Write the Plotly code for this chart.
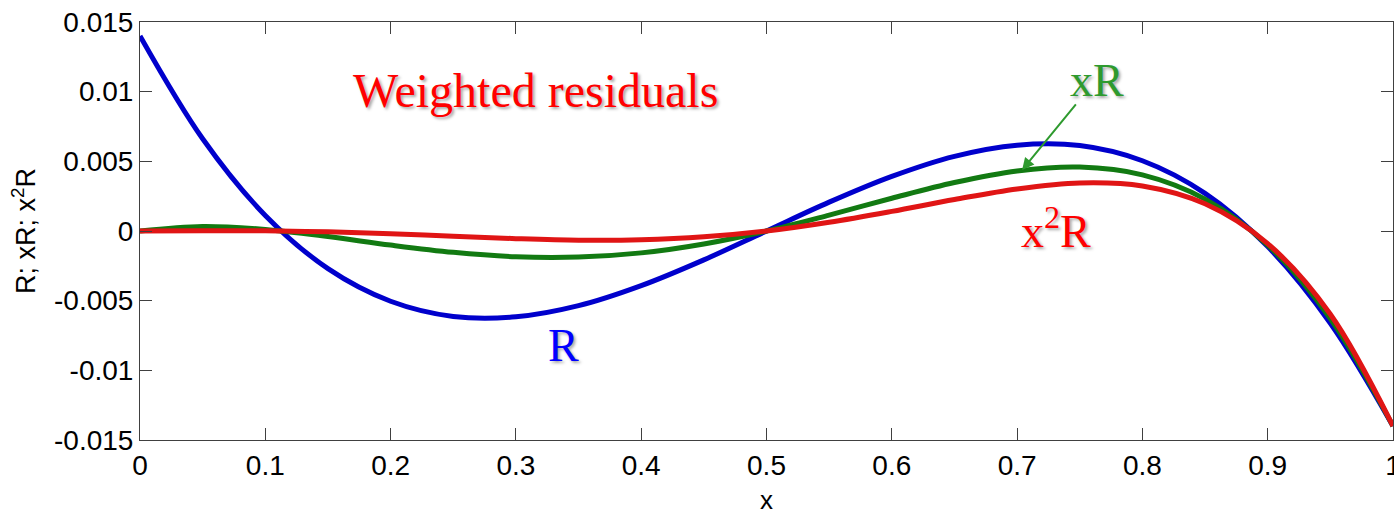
import plotly.graph_objects as go

x_vals = [0.0, 0.05, 0.1, 0.15, 0.2, 0.25, 0.3, 0.35, 0.4, 0.45, 0.5,
          0.55, 0.6, 0.65, 0.7, 0.75, 0.8, 0.85, 0.9, 0.95, 1.0]
R_vals = [0.014, 0.00662, 0.00112, -0.00270, -0.00504, -0.00613, -0.00616, -0.00536,
          -0.00392, -0.00207, 0.0, 0.00207, 0.00392, 0.00536, 0.00616, 0.00613,
          0.00504, 0.00270, -0.00112, -0.00662, -0.014]
xR_vals = [0.0, 0.00033, 0.00011, -0.00040, -0.00101, -0.00153, -0.00185, -0.00187,
           -0.00157, -0.00093, 0.0, 0.00114, 0.00235, 0.00348, 0.00431, 0.00459,
           0.00403, 0.00229, -0.00101, -0.00628, -0.014]
x2R_vals = [0.0, 0.00002, 0.00001, -0.00006, -0.00020, -0.00038, -0.00055, -0.00066,
            -0.00063, -0.00042, 0.0, 0.00063, 0.00141, 0.00226, 0.00302, 0.00345,
            0.00323, 0.00195, -0.00091, -0.00597, -0.014]

x_ticks = [0, 0.1, 0.2, 0.3, 0.4, 0.5, 0.6, 0.7, 0.8, 0.9, 1]
x_ticklabels = ["0", "0.1", "0.2", "0.3", "0.4", "0.5", "0.6", "0.7", "0.8", "0.9", "1"]
y_ticks = [-0.015, -0.01, -0.005, 0, 0.005, 0.01, 0.015]
y_ticklabels = ["-0.015", "-0.01", "-0.005", "0", "0.005", "0.01", "0.015"]

fig = go.Figure()
fig.add_trace(go.Scatter(x=x_vals, y=R_vals, mode="lines", line=dict(color="#0000CC", width=5, shape="spline"), name="R"))
fig.add_trace(go.Scatter(x=x_vals, y=xR_vals, mode="lines", line=dict(color="#127A12", width=5, shape="spline"), name="xR"))
fig.add_trace(go.Scatter(x=x_vals, y=x2R_vals, mode="lines", line=dict(color="#E01515", width=5, shape="spline"), name="x2R"))

shadow = "2px 2px 3px rgba(0,0,0,0.35)"
serif = "Liberation Serif, Times New Roman, serif"
fig.add_annotation(x=0.316, y=0.0101, text="Weighted residuals", showarrow=False,
                   font=dict(family=serif, size=48, color="#FF0000", shadow=shadow))
fig.add_annotation(x=0.764, y=0.0108, text="xR", showarrow=False,
                   font=dict(family=serif, size=46, color="#2E9A2E", shadow=shadow))
fig.add_annotation(x=0.338, y=-0.0082, text="R", showarrow=False,
                   font=dict(family=serif, size=46, color="#0000FF", shadow=shadow))
fig.add_annotation(x=0.731, y=0.0002, text="x<sup>2</sup>R", showarrow=False,
                   font=dict(family=serif, size=46, color="#FF0000", shadow=shadow))
fig.add_annotation(x=0.704, y=0.00438, ax=55, ay=-67, text="", showarrow=True,
                   arrowhead=2, arrowsize=1.2, arrowwidth=2, arrowcolor="#2E9A2E")

tick_font = dict(family="Arial, Liberation Sans", size=28, color="#000")
axis_common = dict(showline=True, linecolor="#404040", linewidth=1, mirror="ticks",
                   ticks="inside", ticklen=12, tickcolor="#404040", showgrid=False,
                   zeroline=False, tickfont=tick_font, ticklabeloverflow="allow")
fig.update_xaxes(range=[0, 1], tickvals=x_ticks, ticktext=x_ticklabels,
                 title=dict(text="x", font=dict(family="Arial, Liberation Sans", size=26, color="#000"), standoff=16),
                 **axis_common)
fig.update_yaxes(range=[-0.015, 0.015], tickvals=y_ticks, ticktext=y_ticklabels,
                 title=dict(text="R; xR; x<sup>2</sup>R", font=dict(family="Arial, Liberation Sans", size=27, color="#000"), standoff=10),
                 **axis_common)
fig.update_layout(width=1394, height=515, margin=dict(l=140, r=1, t=22, b=75, autoexpand=False),
                  plot_bgcolor="white", paper_bgcolor="white", showlegend=False)
fig.write_html("out.html", config={"displayModeBar": False},
               post_script="document.documentElement.style.overflow='hidden';document.body.style.margin='0';document.body.style.overflow='hidden';")
